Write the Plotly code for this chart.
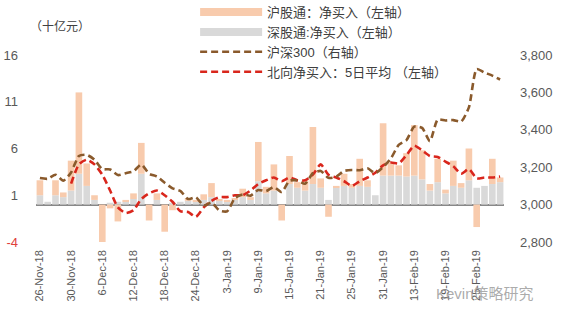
import plotly.graph_objects as go

dates = ["26-Nov-18","27-Nov-18","28-Nov-18","29-Nov-18","30-Nov-18",
         "3-Dec-18","4-Dec-18","5-Dec-18","6-Dec-18","7-Dec-18","10-Dec-18","11-Dec-18","12-Dec-18",
         "13-Dec-18","14-Dec-18","17-Dec-18","18-Dec-18","19-Dec-18","20-Dec-18","21-Dec-18","24-Dec-18",
         "27-Dec-18","28-Dec-18","2-Jan-19","3-Jan-19","4-Jan-19","7-Jan-19","8-Jan-19","9-Jan-19",
         "10-Jan-19","11-Jan-19","14-Jan-19","15-Jan-19","16-Jan-19","17-Jan-19","18-Jan-19","21-Jan-19",
         "22-Jan-19","23-Jan-19","24-Jan-19","25-Jan-19","28-Jan-19","29-Jan-19","30-Jan-19","31-Jan-19",
         "1-Feb-19","11-Feb-19","12-Feb-19","13-Feb-19","14-Feb-19","15-Feb-19","18-Feb-19","19-Feb-19",
         "20-Feb-19","21-Feb-19","22-Feb-19","25-Feb-19","26-Feb-19","27-Feb-19","28-Feb-19"]

# 深股通 net buy (bn CNY)
sz_net = [1.0,0.3,1.0,0.8,1.5,3.3,2.0,0.5,0.0,0.2,0.3,0.3,0.6,3.3,0.0,0.5,0.0,0.2,0.3,0.4,
          0.3,0.5,0.8,0.4,0.3,0.5,0.8,0.5,2.5,1.2,1.5,0.0,2.2,1.8,1.5,2.2,1.8,0.5,1.8,2.0,
          1.8,2.0,1.9,1.0,3.1,3.1,3.1,3.0,3.1,2.7,1.5,2.4,1.2,2.0,1.8,2.6,1.8,2.0,2.2,2.4]

# 沪股通 net buy (bn CNY)
sh_net = [1.6,0.0,1.6,0.5,3.2,8.7,2.4,0.5,-4.1,-0.4,-1.8,0.2,0.6,3.3,-1.7,0.7,-2.9,-0.6,0.0,0.3,
          0.2,0.6,1.5,0.2,0.2,0.2,0.9,0.3,4.2,0.7,2.8,-1.7,3.0,0.6,1.1,6.1,1.0,-1.3,0.2,1.3,
          0.4,2.9,0.7,0.0,5.6,1.4,1.1,2.5,5.4,3.1,0.7,2.5,0.4,2.7,0.5,3.4,-2.4,0.0,2.7,0.5]

# 沪深300 index (right axis)
csi300 = [3142,3138,3160,3128,3172,3260,3266,3240,3190,3188,3158,3168,3178,3215,3165,3150,3117,3087,3073,3030,
          3039,2995,3011,2969,2964,3035,3054,3048,3078,3072,3094,3067,3128,3129,3112,3168,3180,3143,3149,3180,
          3185,3184,3194,3168,3201,3247,3319,3345,3417,3410,3339,3455,3450,3452,3444,3520,3725,3706,3690,3669]

# 北向净买入 5日平均 (left axis)
north_ma5 = [None,None,None,None,2.25,4.3,4.8,4.3,3.2,1.5,-0.3,-0.9,-0.6,0.6,1.2,1.5,1.0,0.3,-0.7,-0.8,
             -1.3,-0.3,0.4,0.8,0.8,1.0,1.0,1.5,2.2,2.6,2.9,2.5,2.9,2.6,2.6,3.2,4.3,3.2,2.9,2.5,
             2.0,2.5,2.9,3.4,4.2,4.5,4.4,5.3,6.3,5.8,5.2,5.1,4.6,4.1,3.3,3.8,2.8,2.9,2.9,3.0]

tick_labels = dates[::4]
left_ticks = [-4, 1, 6, 11, 16]
right_ticks = [2800, 3000, 3200, 3400, 3600, 3800]

names = ["沪股通：净买入（左轴）", "深股通:净买入（左轴）", "沪深300（右轴）", "北向净买入：5日平均 （左轴）"]
c_sh = "#F8CBAD"
c_sz = "#D9D9D9"
c_csi = "#8A5A2C"
c_north = "#D9261C"

FONT = "Arial, 'Liberation Sans', 'Noto Sans CJK SC', sans-serif"

fig = go.Figure()
fig.add_trace(go.Bar(x=dates, y=sz_net, marker_color=c_sz, marker_line_width=0,
                     showlegend=False, name=names[1]))
fig.add_trace(go.Bar(x=dates, y=sh_net, marker_color=c_sh, marker_line_width=0,
                     showlegend=False, name=names[0]))
fig.add_trace(go.Scatter(x=dates, y=csi300, yaxis="y2", mode="lines", showlegend=False,
                         line=dict(color=c_csi, width=2.6, dash="7px,4px", shape="spline", smoothing=0.6)))
fig.add_trace(go.Scatter(x=dates, y=north_ma5, mode="lines", showlegend=False,
                         line=dict(color=c_north, width=2.6, dash="7px,4px", shape="spline", smoothing=0.6)))

# legend entries
fig.add_trace(go.Scatter(x=[None], y=[None], mode="lines", name=names[0], legendrank=1,
                         line=dict(color=c_sh, width=8)))
fig.add_trace(go.Scatter(x=[None], y=[None], mode="lines", name=names[1], legendrank=2,
                         line=dict(color=c_sz, width=8)))
fig.add_trace(go.Scatter(x=[None], y=[None], mode="lines", name=names[2], legendrank=3,
                         line=dict(color=c_csi, width=2.6, dash="7px,4px")))
fig.add_trace(go.Scatter(x=[None], y=[None], mode="lines", name=names[3], legendrank=4,
                         line=dict(color=c_north, width=2.6, dash="7px,4px")))

left_text = [f'<span style="color:#E0403A">{v}</span>' if v < 0 else str(v) for v in left_ticks]

fig.update_layout(
    width=564, height=321,
    margin=dict(l=36, r=60, t=55, b=79, autoexpand=False),
    paper_bgcolor="white", plot_bgcolor="white",
    barmode="relative", bargap=0.15,
    font=dict(family=FONT, color="#595959", size=13),
    xaxis=dict(type="category", tickvals=tick_labels, ticktext=tick_labels, tickangle=-90,
               tickfont=dict(size=11, color="#595959"), showgrid=False, showline=False,
               ticks="", ticklabelstandoff=5, range=[-0.5, len(dates) - 0.5]),
    yaxis=dict(range=[-4, 16], tickvals=left_ticks, ticktext=left_text, showgrid=False,
               zeroline=True, zerolinecolor="#888888", zerolinewidth=1.5, showline=False,
               ticks="", ticklabelstandoff=17, tickfont=dict(size=13, color="#595959")),
    yaxis2=dict(range=[2800, 3800], tickvals=right_ticks, tickformat=",d", overlaying="y",
                side="right", showgrid=False, zeroline=False, showline=False, ticks="",
                ticklabelstandoff=15, tickfont=dict(size=13, color="#595959")),
    legend=dict(x=0.34, y=1.31, xanchor="left", yanchor="top", bgcolor="rgba(0,0,0,0)",
                font=dict(size=13, color="#404040"), itemwidth=62, tracegroupgap=0),
    annotations=[
        dict(text="（十亿元）", xref="paper", yref="paper", x=0.051, y=1.15, xanchor="center",
             yanchor="middle", showarrow=False, font=dict(size=12, color="#404040")),
        dict(text="Kevin策略研究", xref="paper", yref="paper", x=0.85, y=-0.273, xanchor="left",
             yanchor="middle", showarrow=False, font=dict(size=15, color="rgba(150,150,150,0.8)")),
    ],
)

fig.write_html("out.html")
